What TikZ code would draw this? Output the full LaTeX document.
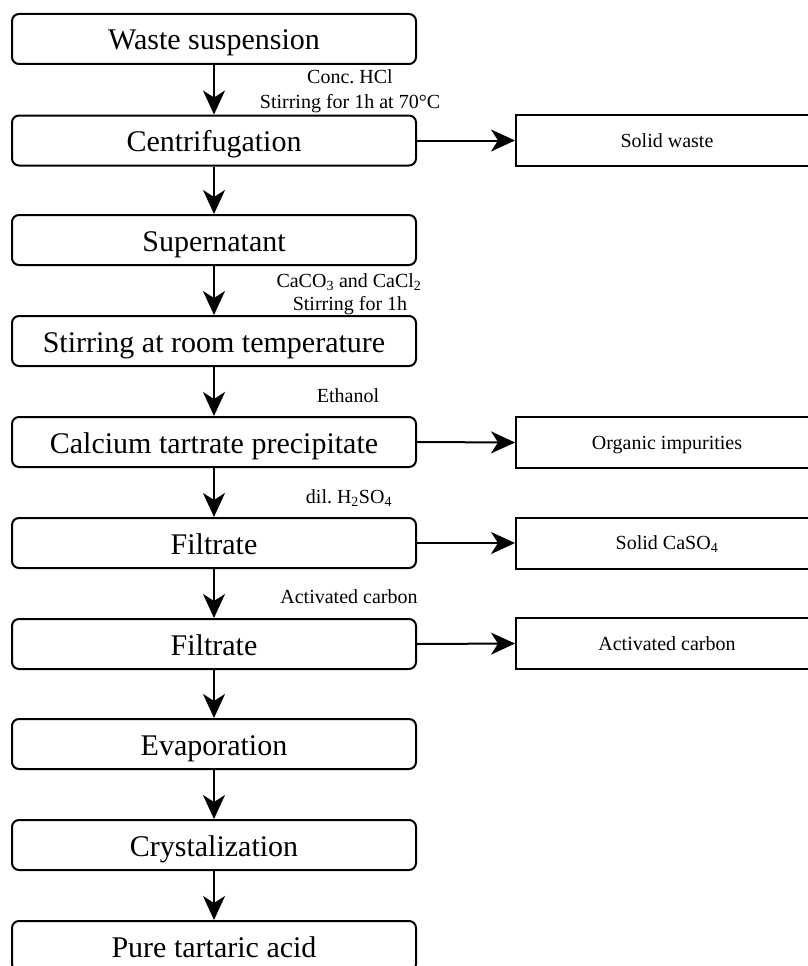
\documentclass[tikz,border=0pt]{standalone}
\usepackage{fontspec}
\setmainfont{Liberation Serif}
\usetikzlibrary{arrows.meta}
\frenchspacing
\begin{document}
\begin{tikzpicture}[x=1pt,y=-1pt,
  main/.style={draw, line width=2pt, rounded corners=7pt, minimum width=404pt, minimum height=50pt, inner sep=0pt, text height=24pt, text depth=2pt, font=\fontsize{30}{36}\selectfont},
  side/.style={draw, line width=2pt, minimum width=302pt, minimum height=51pt, inner sep=0pt, text height=15pt, text depth=2pt, font=\fontsize{20}{24}\selectfont},
  lab/.style={anchor=base, inner sep=0pt, font=\fontsize{20}{24}\selectfont},
  arr/.style={-{Stealth[length=24pt,width=22pt,inset=7pt]}, line width=2pt}]
\path[use as bounding box, clip] (0,0) rectangle (808,966);

\node[main] (n1) at (214,39) {Waste suspension};
\node[main] (n2) at (214,140.5) {Centrifugation};
\node[main] (n3) at (214,240) {Supernatant};
\node[main] (n4) at (214,341) {Stirring at room temperature};
\node[main] (n5) at (214,442) {Calcium tartrate precipitate};
\node[main] (n6) at (214,543) {Filtrate};
\node[main] (n7) at (214,644) {Filtrate};
\node[main] (n8) at (214,744) {Evaporation};
\node[main] (n9) at (214,845) {Crystalization};
\node[main] (n10) at (214,946) {Pure tartaric acid};

\node[side] (s1) at (667,140.5) {Solid waste};
\node[side] (s2) at (667,442.5) {Organic impurities};
\node[side] (s3) at (667,543) {Solid CaSO\textsubscript{4}};
\node[side] (s4) at (667,643.5) {Activated carbon};

\node[lab] (l1a) at (350,83) {Conc. HCl};
\node[lab] (l1b) at (350,108) {Stirring for 1h at 70°C};
\node[lab] (l2a) at (349,287) {CaCO\textsubscript{3} and CaCl\textsubscript{2}};
\node[lab] (l2b) at (350,310) {Stirring for 1h};
\node[lab] (l3) at (348,402) {Ethanol};
\node[lab] (l4) at (349,503) {dil. H\textsubscript{2}SO\textsubscript{4}};
\node[lab] (l5) at (349,603) {Activated carbon};

\draw[arr] (n1.south) -- (n2.north);
\draw[arr] (n2.south) -- (n3.north);
\draw[arr] (n3.south) -- (n4.north);
\draw[arr] (n4.south) -- (n5.north);
\draw[arr] (n5.south) -- (n6.north);
\draw[arr] (n6.south) -- (n7.north);
\draw[arr] (n7.south) -- (n8.north);
\draw[arr] (n8.south) -- (n9.north);
\draw[arr] (n9.south) -- (n10.north);

\draw[arr] (n2.east) -- (s1.west);
\draw[arr] (n5.east) -- (s2.west);
\draw[arr] (n6.east) -- (s3.west);
\draw[arr] (n7.east) -- (s4.west);
\end{tikzpicture}
\end{document}
